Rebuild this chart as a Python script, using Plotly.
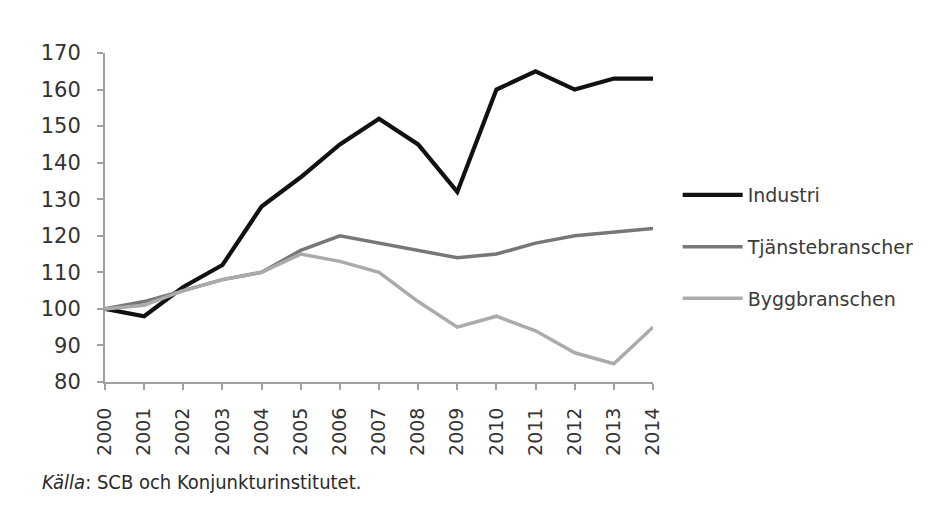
import plotly.graph_objects as go

years = list(range(2000, 2015))
industri = [100, 98, 106, 112, 128, 136, 145, 152, 145, 132, 160, 165, 160, 163, 163]
tjanste = [100, 102, 105, 108, 110, 116, 120, 118, 116, 114, 115, 118, 120, 121, 122]
bygg = [100, 101, 105, 108, 110, 115, 113, 110, 102, 95, 98, 94, 88, 85, 95]
y_ticks = list(range(80, 171, 10))
source_text = "<i>Källa</i>: SCB och Konjunkturinstitutet."

fig = go.Figure()
series = [
    ("Industri", industri, "#111111", 4.2),
    ("Tjänstebranscher", tjanste, "#777777", 3.5),
    ("Byggbranschen", bygg, "#ababab", 3.5),
]
for i, (name, vals, col, w) in enumerate(series):
    fig.add_trace(go.Scatter(
        x=years, y=vals, mode="lines", name=name,
        line=dict(color=col, width=w), legendgroup=str(i),
    ))

fig.update_layout(
    width=947, height=512,
    margin=dict(l=105, r=294, t=53, b=130),
    paper_bgcolor="white", plot_bgcolor="white",
    showlegend=True,
    legend=dict(
        x=1.045, y=0.41, xanchor="left", yanchor="middle",
        font=dict(family="DejaVu Sans", size=19, color="#3a3a3a"),
        tracegroupgap=24, itemwidth=60, bgcolor="rgba(0,0,0,0)",
    ),
    xaxis=dict(
        range=[2000, 2014], tickmode="array", tickvals=years,
        ticktext=[str(y) for y in years], tickangle=-90,
        showgrid=False, zeroline=False, showline=True,
        linecolor="#a0a0a0", linewidth=2, ticks="outside",
        tickcolor="#a0a0a0", ticklen=6, tickwidth=2,
        tickfont=dict(family="DejaVu Sans", size=19, color="#333333"),
        ticklabelstandoff=10,
    ),
    yaxis=dict(
        range=[80, 170], tickmode="array", tickvals=y_ticks,
        showgrid=False, zeroline=False, showline=True,
        linecolor="#a0a0a0", linewidth=2, ticks="outside",
        tickcolor="#a0a0a0", ticklen=6, tickwidth=2,
        tickfont=dict(family="DejaVu Sans", size=21, color="#333333"),
        ticklabelstandoff=12,
    ),
    annotations=[dict(
        text=source_text, xref="paper", yref="paper",
        x=-105 / 548 + 40 / 548, y=-100 / 329,
        xanchor="left", yanchor="middle", showarrow=False,
        font=dict(family="Liberation Sans Narrow, DejaVu Sans Condensed", size=20, color="#2a2a2a"),
    )],
)

fig.write_html("out.html")
